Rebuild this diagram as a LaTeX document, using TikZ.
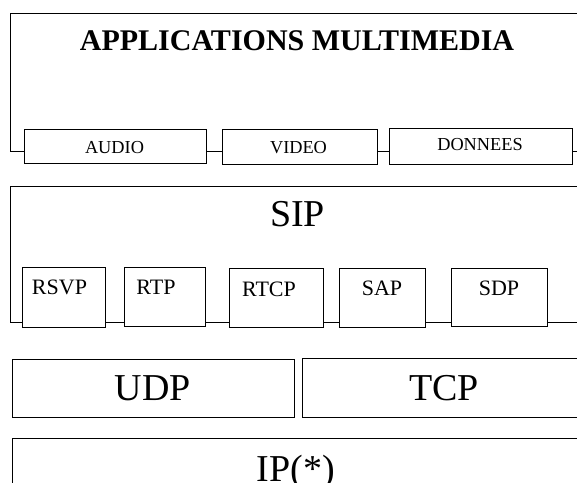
\documentclass[tikz,border=0pt]{standalone}
\usepackage{fontspec}
\setmainfont{Liberation Serif}
\begin{document}
\begin{tikzpicture}[x=1pt,y=-1pt,
        frame/.style={line width=0.9pt},
        box/.style={draw,line width=0.9pt,fill=white,inner sep=0pt,anchor=north west},
        lbl/.style={anchor=base,inner sep=0pt},
        small/.style={lbl,font=\fontsize{18.3}{20}\selectfont},
        proto/.style={lbl,font=\fontsize{22}{24}\selectfont},
        big/.style={lbl,font=\fontsize{38}{40}\selectfont}]

        \useasboundingbox (0,0) rectangle (577,482);
        \clip (0,0) rectangle (577,482);

        % Layer frames, open to the right (and below for IP)
        \draw[frame] (600,13) -- (10,13) -- (10,151) -- (600,151);
        \draw[frame] (600,186) -- (10,186) -- (10,322) -- (600,322);
        \draw[frame] (600,438) -- (12,438) -- (12,500);

        % Applications layer
        \node[lbl,font=\fontsize{30}{32}\selectfont\bfseries] (apps) at (297,50) {APPLICATIONS MULTIMEDIA};
        \node[box,minimum width=182pt,minimum height=34pt] (audio) at (24,129) {};
        \node[box,minimum width=155pt,minimum height=35pt] (video) at (222,129) {};
        \node[box,minimum width=183pt,minimum height=36pt] (donnees) at (389,128) {};
        \node[small] (audiotxt) at (114.5,153) {AUDIO};
        \node[small] (videotxt) at (298.5,153) {VIDEO};
        \node[small] (donneestxt) at (480,150) {DONNEES};

        % SIP layer
        \node[big] (sip) at (297.5,226) {SIP};
        \node[box,minimum width=83pt,minimum height=60pt] (rsvp) at (22,267) {};
        \node[box,minimum width=81pt,minimum height=59pt] (rtp) at (124,267) {};
        \node[box,minimum width=94pt,minimum height=59pt] (rtcp) at (229,268) {};
        \node[box,minimum width=86pt,minimum height=59pt] (sap) at (339,268) {};
        \node[box,minimum width=96pt,minimum height=58pt] (sdp) at (451,268) {};
        \node[proto] (rsvptxt) at (59.5,294) {RSVP};
        \node[proto] (rtptxt) at (156,294) {RTP};
        \node[proto] (rtcptxt) at (269,296) {RTCP};
        \node[proto] (saptxt) at (382,295) {SAP};
        \node[proto] (sdptxt) at (499,295) {SDP};

        % Transport layer
        \node[box,minimum width=282pt,minimum height=58pt] (udp) at (12,359) {};
        \node[box,minimum width=290pt,minimum height=59pt] (tcp) at (302,358) {};
        \node[big] (udptxt) at (153,400) {UDP};
        \node[big] (tcptxt) at (444,400) {TCP};

        % Network layer
        \node[big] (ip) at (296,481) {IP(*)};

\end{tikzpicture}
\end{document}
